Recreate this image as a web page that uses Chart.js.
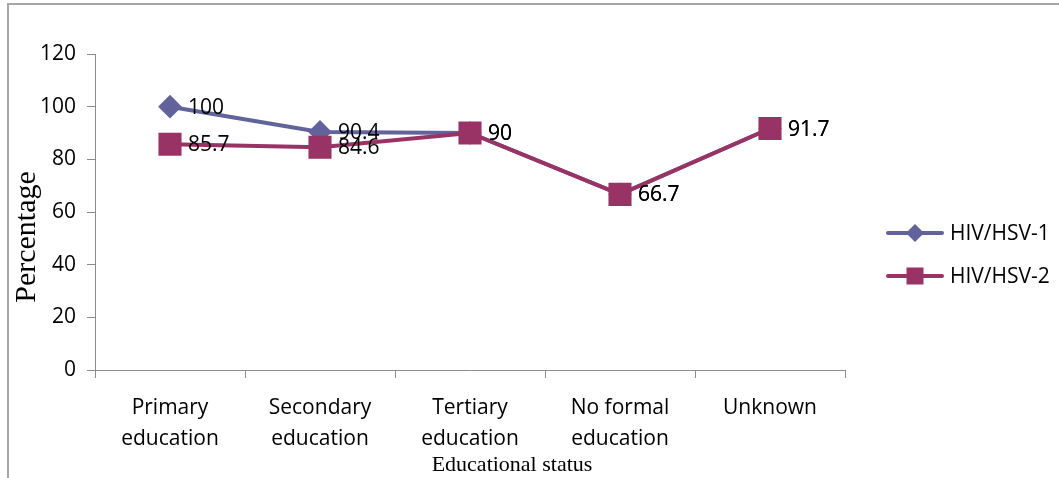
<!DOCTYPE html>
<html>
<head>
<meta charset="utf-8">
<script src="https://cdn.jsdelivr.net/npm/chart.js@4"></script>
<style>
  body { margin: 0; background: #fff; }
  #wrap { position: relative; width: 1059px; height: 478px; }
  #frame { position: absolute; left: 7px; top: 3px; right: 0; bottom: 0;
           border-top: 2px solid #a6a6a6; border-left: 2px solid #a6a6a6; }
  canvas { position: absolute; left: 0; top: 0; }
</style>
</head>
<body>
<div id="wrap">
  <div id="frame"></div>
  <canvas id="eduChart" width="1059" height="478"></canvas>
</div>
<script>
// Datos por nivel educativo
const categorias = [
  ['Primary', 'education'],
  ['Secondary', 'education'],
  ['Tertiary', 'education'],
  ['No formal', 'education'],
  ['Unknown']
];
const hsv1 = [100, 90.4, 90, 66.7, 91.7];
const hsv2 = [85.7, 84.6, 90, 66.7, 91.7];
const yTicks = [0, 20, 40, 60, 80, 100, 120];

const fuente = "'Open Sans', 'DejaVu Sans', sans-serif";
const serif = "'Liberation Serif', 'DejaVu Serif', serif";

// Etiquetas de valor a la derecha de cada punto
const etiquetasPlugin = {
  id: 'etiquetas',
  afterDatasetsDraw(chart) {
    const ctx = chart.ctx;
    ctx.save();
    ctx.font = '21px ' + fuente;
    ctx.fillStyle = '#000';
    ctx.textAlign = 'left';
    ctx.textBaseline = 'middle';
    chart.data.datasets.forEach((ds, i) => {
      chart.getDatasetMeta(i).data.forEach((pt, j) => {
        ctx.fillText(String(ds.data[j]), pt.x + 18, pt.y + 1);
      });
    });
    ctx.restore();
  }
};

// Títulos de ejes y leyenda con línea + marcador
const extrasPlugin = {
  id: 'extras',
  afterDraw(chart) {
    const ctx = chart.ctx;
    ctx.save();
    ctx.fillStyle = '#000';
    ctx.font = '30px ' + serif;
    ctx.translate(27, 237);
    ctx.rotate(-Math.PI / 2);
    ctx.textAlign = 'center';
    ctx.textBaseline = 'middle';
    ctx.fillText('Percentage', 0, 0);
    ctx.restore();

    ctx.save();
    ctx.fillStyle = '#000';
    ctx.font = '22px ' + serif;
    ctx.textAlign = 'center';
    ctx.textBaseline = 'middle';
    ctx.fillText('Educational status', 512, 465);
    ctx.restore();

    const items = [
      { ds: chart.data.datasets[0], y: 233 },
      { ds: chart.data.datasets[1], y: 276 }
    ];
    items.forEach(it => {
      ctx.save();
      ctx.strokeStyle = it.ds.borderColor;
      ctx.lineWidth = 4;
      ctx.lineCap = 'round';
      ctx.beginPath();
      ctx.moveTo(888, it.y);
      ctx.lineTo(942, it.y);
      ctx.stroke();
      ctx.fillStyle = it.ds.backgroundColor;
      const cx = 915;
      if (it.ds.pointStyle === 'rectRot') {
        ctx.beginPath();
        ctx.moveTo(cx, it.y - 9);
        ctx.lineTo(cx + 9, it.y);
        ctx.lineTo(cx, it.y + 9);
        ctx.lineTo(cx - 9, it.y);
        ctx.closePath();
        ctx.fill();
      } else {
        ctx.fillRect(cx - 8.5, it.y - 8.5, 17, 17);
      }
      ctx.fillStyle = '#000';
      ctx.font = '21px ' + fuente;
      ctx.textBaseline = 'middle';
      ctx.fillText(it.ds.label, 950, it.y + 1);
      ctx.restore();
    });
  }
};

const ctx = document.getElementById('eduChart').getContext('2d');
new Chart(ctx, {
  type: 'line',
  data: {
    labels: categorias,
    datasets: [
      {
        label: 'HIV/HSV-1',
        data: hsv1,
        order: 1,
        borderColor: '#63639b',
        backgroundColor: '#63639b',
        borderWidth: 4,
        pointStyle: 'rectRot',
        pointRadius: 9,
        pointHoverRadius: 9,
        tension: 0
      },
      {
        label: 'HIV/HSV-2',
        data: hsv2,
        order: 0,
        borderColor: '#993366',
        backgroundColor: '#993366',
        borderWidth: 4,
        pointStyle: 'rect',
        pointRadius: 13.5,
        pointHoverRadius: 13.5,
        tension: 0
      }
    ]
  },
  options: {
    responsive: false,
    animation: false,
    layout: { padding: { top: 54, right: 214, left: 0, bottom: 0 } },
    plugins: {
      legend: { display: false },
      tooltip: { enabled: false }
    },
    scales: {
      x: {
        offset: true,
        grid: { offset: true, drawOnChartArea: false, drawTicks: true, tickLength: 8, color: '#8c8c8c' },
        border: { display: true, color: '#8c8c8c', width: 1 },
        ticks: {
          color: '#000',
          font: { family: fuente, size: 21, lineHeight: 1.5 },
          padding: 14,
          maxRotation: 0,
          autoSkip: false
        },
        afterFit(scale) { scale.height = 108; }
      },
      y: {
        min: 0,
        max: 120,
        afterBuildTicks(scale) { scale.ticks = yTicks.map(v => ({ value: v })); },
        grid: { drawOnChartArea: false, drawTicks: true, tickLength: 8, color: '#8c8c8c' },
        border: { display: true, color: '#8c8c8c', width: 1 },
        ticks: {
          color: '#000',
          font: { family: fuente, size: 21 },
          padding: 11
        },
        afterFit(scale) { scale.width = 95; }
      }
    }
  },
  plugins: [etiquetasPlugin, extrasPlugin]
});
</script>
</body>
</html>
